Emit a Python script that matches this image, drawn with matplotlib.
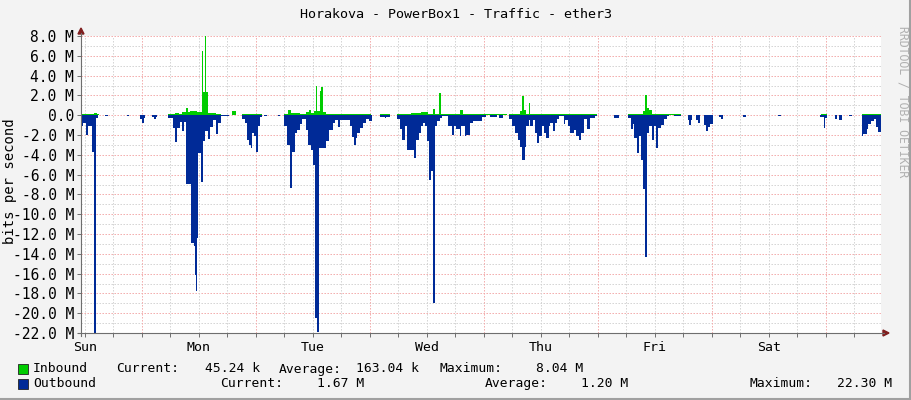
import matplotlib
matplotlib.use("Agg")
import matplotlib.pyplot as plt
from matplotlib.patches import Rectangle, Polygon
from matplotlib.lines import Line2D

# Weekly traffic, hours since Sunday 00:00, values in Mbit/s.
# Each value holds until the next timestamp (rrdtool style steps).
out_hours = [
    -0.84, -0.42, 0.21, 0.63, 1.47, 1.95, 2.4, 2.84, 4.21, 4.84, 8.84, 9.16,
    11.58, 11.9, 12.42, 12.63, 14.1, 14.53, 14.95, 15.16,
    17.47, 18.53, 18.95, 19.37, 20.0, 20.42, 20.84, 21.26, 22.42, 22.95, 23.16,
    23.37, 23.58, 23.89, 24.42, 24.74, 25.26, 25.89, 26.32, 26.95, 27.58, 28.0,
    28.63, 30.32,
    33.05, 33.68, 34.11, 34.53, 34.95, 35.16, 35.58, 36.0, 36.42, 36.84, 37.26,
    37.68, 38.32, 40.63, 41.05, 41.89, 42.53, 43.16, 43.58, 44.21, 44.63, 45.26,
    45.68, 46.53, 46.95, 47.58, 47.9, 48.42, 48.9, 49.2, 50.74, 51.37, 52.21,
    52.63, 53.26, 53.68, 55.79, 56.21, 56.63, 57.05, 57.26, 57.89, 58.53, 59.16,
    59.79, 60.32, 62.11, 63.16, 63.37, 64.21,
    65.68, 66.32, 66.74, 67.37, 67.79, 68.32, 68.47, 69.26, 69.68, 70.32, 70.74,
    71.16, 71.58, 72.0, 72.42, 72.84, 73.26, 73.6, 74.11, 74.74, 75.16, 76.42,
    77.26, 77.68, 78.11, 78.95, 79.16, 80.0, 80.21, 81.05, 81.68, 83.58, 84.42,
    85.26, 86.74, 87.16, 88.0,
    89.26, 89.89, 90.53, 91.16, 91.58, 92.0, 92.63, 92.84, 93.47, 93.68, 94.32,
    94.74, 95.16, 95.58, 96.21, 96.63, 97.05, 97.68, 97.89, 98.53, 98.95, 99.37,
    99.79, 100.84, 101.05, 101.68, 102.11, 102.95, 103.37, 104.0, 104.42,
    105.05, 105.68, 106.32, 107.37, 107.79, 111.37, 112.42,
    114.32, 114.95, 115.37, 115.58, 116.21, 116.63, 117.05, 117.47, 117.89,
    118.32, 118.74, 119.37, 119.79, 120.21, 120.63, 121.26, 121.89, 122.53,
    122.95, 124.0, 125.47, 126.95, 127.26, 127.58, 127.79, 128.63, 129.05,
    129.47, 130.32, 130.74, 131.16, 131.58, 132.21, 133.47, 133.89, 134.32,
    138.53, 139.16,
    145.89, 146.53, 154.74, 155.58, 155.89, 156.11, 157.89, 158.32, 158.74,
    159.37, 160.84, 161.47, 163.58, 163.79, 164.63, 164.84, 165.47, 166.11,
    166.53, 166.95, 167.58,
]
out_mbits = [
    -1.1, -0.8, -2.0, -1.1, -3.7, -22.3, -0.3, 0, -0.1, 0, -0.1, 0,
    -0.4, -0.8, -0.3, 0, -0.2, -0.35, -0.2, 0,
    -0.3, -1.3, -2.7, -1.3, -0.7, -1.6, -0.7, -6.9, -12.9, -13.2, -16.1,
    -17.8, -12.4, -3.8, -6.7, -2.6, -1.6, -2.4, -1.2, -0.5, -1.9, -0.8,
    -0.1, 0,
    -0.4, -0.8, -2.5, -3.0, -3.3, -1.8, -2.1, -3.7, -1.1, -0.2, 0,
    -0.1, 0, -0.1, 0, -1.1, -3.0, -7.4, -3.7, -1.8, -1.5, -0.9,
    -0.4, -1.5, -3.0, -3.5, -5.0, -20.5, -21.9, -3.3, -2.6, -1.5, -0.8,
    -0.5, -1.2, -0.5, -1.1, -2.2, -3.0, -2.3, -1.8, -1.3, -0.8, -0.4,
    -0.6, 0, -0.15, -0.3, -0.15, 0,
    -0.4, -1.4, -2.5, -1.1, -3.5, -8.8, -3.5, -4.3, -2.5, -1.8, -1.1,
    -0.8, -1.1, -2.6, -6.5, -5.6, -19.0, -1.1, -0.6, -0.3, -0.1, -1.1,
    -2.0, -1.1, -1.4, -2.1, -1.1, -2.1, -2.0, -0.8, -0.6, -0.15, 0,
    -0.15, 0, -0.25, 0,
    -0.35, -1.1, -1.8, -2.5, -3.2, -4.5, -3.2, -1.1, -0.5, -1.1, -0.5,
    -1.8, -2.8, -2.1, -1.1, -1.8, -2.3, -1.1, -0.8, -1.6, -0.8, -0.4,
    -0.1, -0.9, -0.5, -1.1, -1.8, -1.5, -2.1, -2.5, -1.8,
    -0.4, -1.4, -0.3, -0.1, 0, -0.3, 0,
    -0.3, -1.4, -0.9, -2.3, -3.8, -2.1, -4.5, -7.5, -14.3,
    -1.8, -1.1, -2.5, -1.1, -3.3, -1.3, -1.0, -0.4, -0.1,
    0, -0.1, 0, -0.5, -1.0, -0.5, 0, -0.5, -0.8,
    0, -1.0, -1.6, -1.2, -0.9, 0, -0.2, -0.4, 0,
    -0.2, 0,
    -0.1, 0, -0.2, -1.3, -0.3, 0, -0.4, 0, -0.5,
    0, -0.1, 0, -2.1, -1.9, -1.4, -0.9, -0.6, -0.4,
    -1.2, -1.67, -1.67,
]

in_hours = [
    -0.84, 1.89, 2.53, 2.95,
    17.47, 18.95, 19.79, 20.42, 21.26, 21.68, 22.11, 23.68, 24.55, 24.9, 25.33,
    25.5, 25.89, 27.58, 28.63, 30.95, 31.79,
    33.05, 37.26, 41.89, 42.74, 43.37, 45.26, 46.53, 47.16, 47.58, 48.21, 48.63,
    48.91, 49.47, 49.68, 50.11, 50.74, 55.16, 60.11, 62.11, 64.21,
    65.68, 68.53, 70.74, 72.21, 73.26, 73.68, 74.53, 74.95, 76.53, 76.68, 78.95,
    79.58, 88.84,
    89.26, 90.53, 91.58, 92.0, 92.42, 92.74, 93.58, 93.74, 95.16, 97.89, 107.79,
    114.32, 114.53, 117.47, 117.89, 118.32, 118.74, 119.37, 122.53, 125.47,
    155.0, 156.11, 163.58, 167.58,
]
in_mbits = [
    0.1, 0.2, 0.1, 0,
    0.1, 0.2, 0.15, 0.3, 0.75, 0.3, 0.45, 0.3, 6.5, 2.3, 8.04,
    2.3, 0.2, 0.1, 0, 0.4, 0,
    0.1, 0, 0.1, 0.5, 0.2, 0.15, 0.3, 0.55, 0.2, 0.4, 2.9,
    0.4, 2.4, 2.8, 0.3, 0.1, 0.1, 0, 0.1, 0,
    0.15, 0.2, 0.3, 0.15, 0.6, 0.1, 2.25, 0.1, 2.8, 0.1, 0.5,
    0.1, 0,
    0.1, 0.1, 0.4, 1.9, 0.5, 0.1, 1.2, 0.1, 0.15, 0.1, 0,
    0.1, 0.1, 0.4, 2.0, 0.7, 0.5, 0.1, 0.1, 0,
    0.1, 0, 0.1, 0.045,
]

day_names = ["Sun", "Mon", "Tue", "Wed", "Thu", "Fri", "Sat"]
y_ticks = list(range(-22, 9, 2))
y_labels = ["0.0" if v == 0 else "%.1f M" % v for v in y_ticks]

in_stats = ["45.24 k", "163.04 k", "8.04 M"]
out_stats = ["1.67 M", "1.20 M", "22.30 M"]

assert len(out_hours) == len(out_mbits)
assert len(in_hours) == len(in_mbits)

GREEN = "#00CC00"
BLUE = "#002A97"
RED_GRID = "#F2A8A8"
GREY_GRID = "#D2D2D2"
AXIS = "#6E6E6E"
ARROW = "#7F1F1F"
W, H = 911, 400

plt.rcParams["font.family"] = ["DejaVu Sans Mono"]


def fx(x):
    return x / W


def fy(y):
    return 1 - y / H


fig = plt.figure(figsize=(W / 100, H / 100), dpi=100, facecolor="#F3F3F3")
ax = fig.add_axes([fx(81), fy(333), 800 / W, 297 / H])
ax.set_facecolor("white")
ax.set_xlim(-0.84, 167.58)
ax.set_ylim(-22, 8)

# grid: dotted grey minor, dotted red major
dots = (0, (1.4, 1.6))
for v in range(-22, 9):
    ax.axhline(v, color=RED_GRID if v % 2 == 0 else GREY_GRID, lw=0.72,
               ls=dots, zorder=0.5)
for h in range(0, 168, 6):
    ax.axvline(h, color=RED_GRID if h % 24 == 12 else GREY_GRID, lw=0.72,
               ls=dots, zorder=0.5)

ax.fill_between(in_hours, 0, in_mbits, step="post", color=GREEN, lw=0, zorder=2)
ax.fill_between(out_hours, 0, out_mbits, step="post", color=BLUE, lw=0, zorder=2)

for s in ax.spines.values():
    s.set_visible(False)

ax.set_yticks(y_ticks, y_labels)
ax.set_xticks([24 * i for i in range(7)], day_names)
ax.set_xticks(list(range(0, 168, 6)), minor=True)
ax.tick_params(axis="y", length=3, width=0.7, color=AXIS, pad=2, labelsize=10.5)
ax.tick_params(axis="x", which="both", length=3, width=0.7, color=AXIS,
               pad=3, labelsize=9.5)

# axis lines with rrdtool arrows
fig.add_artist(Line2D([fx(81), fx(81)], [fy(336), fy(33)], color=AXIS, lw=0.8))
fig.add_artist(Line2D([fx(78), fx(884)], [fy(333), fy(333)], color=AXIS, lw=0.8))
fig.add_artist(Polygon([[fx(81), fy(28)], [fx(78), fy(34)], [fx(84), fy(34)]],
                       closed=True, color=ARROW, transform=fig.transFigure))
fig.add_artist(Polygon([[fx(889), fy(333)], [fx(883), fy(330)], [fx(883), fy(336)]],
                       closed=True, color=ARROW, transform=fig.transFigure))

fig.text(fx(455.5), fy(14), "Horakova - PowerBox1 - Traffic - ether3",
         ha="center", va="center", fontsize=9.6)
fig.text(fx(10), fy(181), "bits per second", rotation=90,
         ha="center", va="center", fontsize=10)
fig.text(fx(903), fy(26), "RRDTOOL / TOBI OETIKER", rotation=270,
         ha="center", va="top", fontsize=8.3, color="#B0B0B0")

# legend
rows = [
    (369, GREEN, "Inbound", in_stats, [116, 279, 440], [205, 356, 536]),
    (383.5, BLUE, "Outbound", out_stats, [220, 485, 750], [317, 581, 837]),
]
for y, col, name, stats, lab_x, val_x in rows:
    fig.add_artist(Rectangle((fx(17.5), fy(y + 5)), 10 / W, 10 / H, facecolor=col,
                             edgecolor="#222222", lw=0.6, transform=fig.transFigure))
    fig.text(fx(33), fy(y), name, ha="left", va="center", fontsize=9.4)
    for lab, lx, val, vx in zip(["Current:", "Average:", "Maximum:"], lab_x, stats, val_x):
        fig.text(fx(lx), fy(y), lab, ha="left", va="center", fontsize=9.4)
        fig.text(fx(vx), fy(y), val, ha="left", va="center", fontsize=9.4)

# shaded frame at bottom and right
fig.add_artist(Line2D([0, 1], [fy(399), fy(399)], color="#A0A0A0", lw=1.5))
fig.add_artist(Line2D([fx(910), fx(910)], [0, 1], color="#A0A0A0", lw=1.5))

fig.savefig("out.png", dpi=100, facecolor=fig.get_facecolor())
